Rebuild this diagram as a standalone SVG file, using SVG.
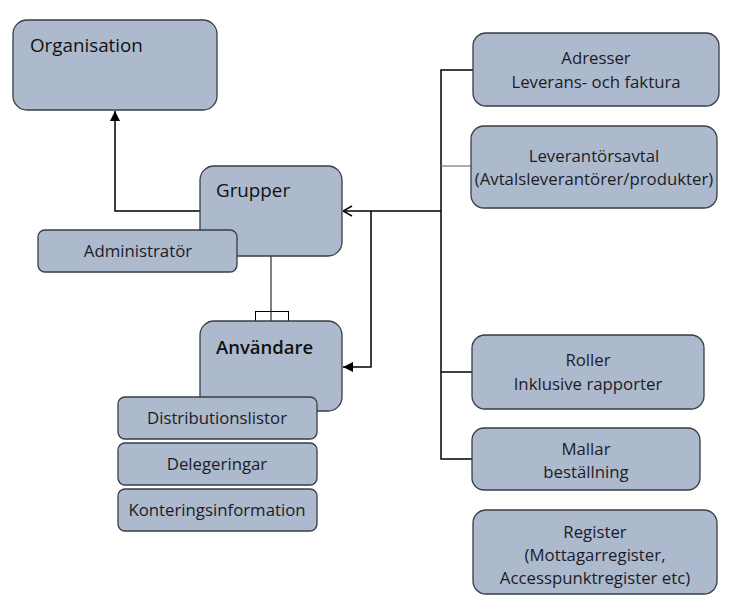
<svg xmlns="http://www.w3.org/2000/svg" width="730" height="606" viewBox="0 0 730 606">
<defs>
<style>
.box{fill:#adb9cc;stroke:#3a3d45;stroke-width:1.3}
.t{font-family:"Open Sans","Liberation Sans",Arial,sans-serif;font-size:16.8px;fill:#1c1c28;text-anchor:middle}
.h{font-family:"Open Sans","Liberation Sans",Arial,sans-serif;font-size:18.8px;fill:#111}
.c{fill:none;stroke:#000;stroke-width:1.5}
</style>
<marker id="fill" viewBox="0 0 10 10" refX="10" refY="5" markerWidth="10" markerHeight="10" markerUnits="userSpaceOnUse" orient="auto">
<path d="M0,0 L10,5 L0,10 z" fill="#000"/>
</marker>
<marker id="open" viewBox="0 0 10 12" refX="10" refY="6" markerWidth="10" markerHeight="12" markerUnits="userSpaceOnUse" orient="auto">
<path d="M1,1 L10,6 L1,11" fill="none" stroke="#000" stroke-width="1.5"/>
</marker>
</defs>
<g id="connectors">
<path class="c" d="M200,211 H115 V111" marker-end="url(#fill)"/>
<path d="M271,256 V321" fill="none" stroke="#000" stroke-width="1"/>
<rect x="255.5" y="311.5" width="33" height="10" fill="none" stroke="#000" stroke-width="1"/>
<path class="c" d="M441,211 H343" marker-end="url(#open)"/>
<path class="c" d="M371,211 V367 H343" marker-end="url(#fill)"/>
<path class="c" d="M473,70 H441 V459 H472"/>
<path d="M441,166 H471" fill="none" stroke="#777" stroke-width="1.2"/>
<path class="c" d="M441,372 H472"/>
</g>
<g id="organisation">
<rect class="box" x="13" y="20" width="204" height="90" rx="14"/>
<text class="h" x="30" y="52">Organisation</text>
</g>
<g id="grupper">
<rect class="box" x="200" y="166" width="142" height="90" rx="14"/>
<text class="h" x="216" y="197">Grupper</text>
</g>
<g id="administrator">
<rect class="box" x="38" y="230" width="199" height="42" rx="7"/>
<text class="t" x="138" y="257">Administratör</text>
</g>
<g id="anvandare">
<rect class="box" x="200" y="321" width="142" height="90" rx="14"/>
<text class="h" x="216" y="354" style="font-weight:600;font-size:18.5px">Användare</text>
</g>
<g id="distributionslistor">
<rect class="box" x="118" y="397" width="199" height="42" rx="7"/>
<text class="t" x="217" y="424">Distributionslistor</text>
</g>
<g id="delegeringar">
<rect class="box" x="118" y="443" width="199" height="42" rx="7"/>
<text class="t" x="217" y="470">Delegeringar</text>
</g>
<g id="konteringsinformation">
<rect class="box" x="118" y="489" width="199" height="42" rx="7"/>
<text class="t" x="217" y="516">Konteringsinformation</text>
</g>
<g id="adresser">
<rect class="box" x="473" y="33" width="246" height="73" rx="13"/>
<text class="t" x="596" y="64">Adresser</text>
<text class="t" x="596" y="88">Leverans- och faktura</text>
</g>
<g id="leverantorsavtal">
<rect class="box" x="471" y="126" width="246" height="82" rx="13"/>
<text class="t" x="594" y="162">Leverantörsavtal</text>
<text class="t" x="594" y="185">(Avtalsleverantörer/produkter)</text>
</g>
<g id="roller">
<rect class="box" x="472" y="335" width="232" height="74" rx="13"/>
<text class="t" x="588" y="366">Roller</text>
<text class="t" x="588" y="390">Inklusive rapporter</text>
</g>
<g id="mallar">
<rect class="box" x="472" y="428" width="228" height="62" rx="12"/>
<text class="t" x="586" y="455">Mallar</text>
<text class="t" x="586" y="478">beställning</text>
</g>
<g id="register">
<rect class="box" x="473" y="510" width="244" height="84" rx="13"/>
<text class="t" x="595" y="538">Register</text>
<text class="t" x="595" y="561">(Mottagarregister,</text>
<text class="t" x="595" y="584">Accesspunktregister etc)</text>
</g>
</svg>
